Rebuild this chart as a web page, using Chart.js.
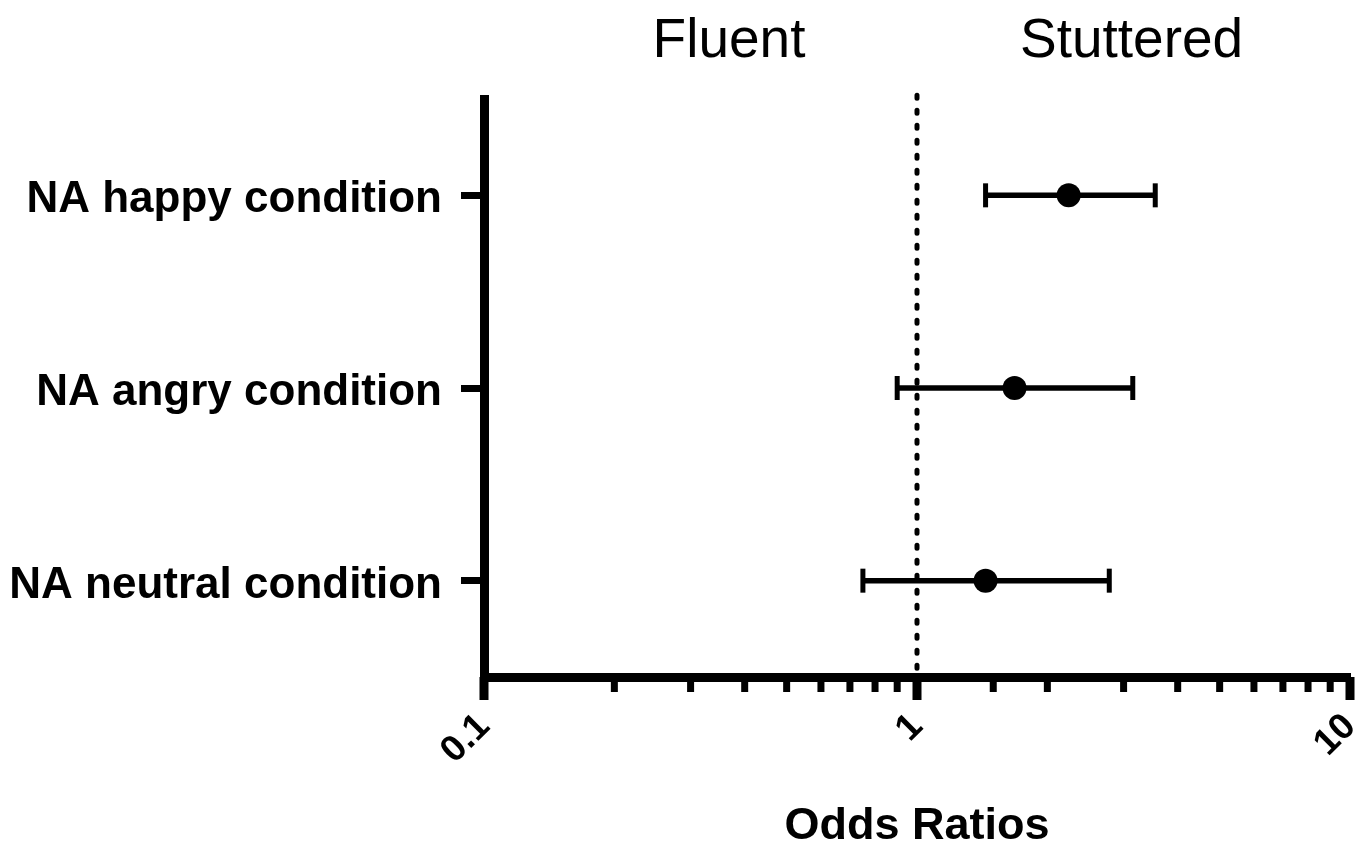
<!DOCTYPE html>
<html>
<head>
<meta charset="utf-8">
<script src="https://cdn.jsdelivr.net/npm/chart.js@4/dist/chart.umd.min.js"></script>
<style>
html,body{margin:0;padding:0;background:#fff;}
#wrap{width:1355px;height:845px;}
</style>
</head>
<body>
<div id="wrap"><canvas id="c" width="1355" height="845"></canvas></div>
<script>
// ---- data ----
const categories = ["NA neutral condition", "NA angry condition", "NA happy condition"];
const oddsRatio  = [1.44, 1.68, 2.24];
const ciLower    = [0.75, 0.90, 1.44];
const ciUpper    = [2.78, 3.15, 3.55];
const xTickLabels = [0.1, 1, 10];
const sideLabels = ["Fluent", "Stuttered"];
const sideLabelAt = [0.368, 3.13];
const referenceValue = 1;

const FONT = "'Liberation Sans', Arial, sans-serif";

const datasets = [];
// points
datasets.push({
  type: 'scatter',
  data: oddsRatio.map((v, i) => ({x: v, y: i})),
  pointRadius: 12,
  pointBackgroundColor: '#000',
  pointBorderColor: '#000',
  pointBorderWidth: 0,
  order: 0,
  clip: false
});
// error bars
categories.forEach((c, i) => {
  datasets.push({
    type: 'line',
    data: [{x: ciLower[i], y: i}, {x: ciUpper[i], y: i}],
    borderColor: '#000',
    borderWidth: 5.5,
    pointStyle: 'line',
    pointRadius: 12,
    pointRotation: 90,
    pointBorderWidth: 5,
    pointBorderColor: '#000',
    order: 1,
    clip: false
  });
});
// reference dotted line
datasets.push({
  type: 'line',
  data: [{x: referenceValue, y: 2.52}, {x: referenceValue, y: -0.5}],
  borderColor: '#000',
  borderWidth: 5,
  borderDash: [3, 12],
  borderCapStyle: 'round',
  pointRadius: 0,
  order: 2,
  clip: false
});

const decorPlugin = {
  id: 'decor',
  afterDraw(chart) {
    const ctx = chart.ctx;
    const xs = chart.scales.x;
    const area = chart.chartArea;
    ctx.save();
    ctx.fillStyle = '#000';
    xs.ticks.forEach(t => {
      const px = xs.getPixelForValue(t.value);
      const lg = Math.log10(t.value);
      const major = Math.abs(lg - Math.round(lg)) < 1e-9;
      const w = major ? 9 : 7;
      const len = major ? 23 : 15;
      let left = px - w / 2;
      if (left + w > area.right + 4.5) left = area.right + 4.5 - w;
      ctx.fillRect(left, area.bottom, w, len);
    });
    ctx.font = "55px " + FONT;
    ctx.textAlign = 'center';
    ctx.textBaseline = 'alphabetic';
    sideLabels.forEach((s, i) => {
      ctx.fillText(s, xs.getPixelForValue(sideLabelAt[i]), 57);
    });
    ctx.restore();
  }
};

new Chart(document.getElementById('c'), {
  type: 'scatter',
  data: { datasets },
  options: {
    responsive: false,
    animation: false,
    devicePixelRatio: 1,
    layout: { autoPadding: false, padding: { top: 99, right: 5, bottom: 0, left: 0 } },
    plugins: { legend: { display: false }, tooltip: { enabled: false } },
    scales: {
      x: {
        type: 'logarithmic',
        position: 'bottom',
        min: 0.1,
        max: 10,
        grid: { display: false, drawTicks: false },
        border: { display: true, color: '#000', width: 9 },
        ticks: {
          autoSkip: false,
          maxRotation: 45,
          minRotation: 45,
          padding: 28,
          color: '#000',
          font: { family: FONT, size: 37, weight: 'bold' },
          callback: (v) => xTickLabels.some(l => Math.abs(l - v) < 1e-9) ? String(v) : ''
        },
        title: {
          display: true,
          text: 'Odds Ratios',
          color: '#000',
          font: { family: FONT, size: 45, weight: 'bold', lineHeight: 0.82 },
          padding: 0
        },
        afterFit(scale) { scale.height = 168; scale.paddingLeft = 0; scale.paddingRight = 0; }
      },
      y: {
        type: 'linear',
        min: -0.5,
        max: 2.5,
        afterBuildTicks(scale) { scale.ticks = categories.map((c, i) => ({ value: i })); },
        grid: { display: true, drawOnChartArea: false, tickLength: 23, tickWidth: 7, tickColor: '#000' },
        border: { display: true, color: '#000', width: 9 },
        ticks: {
          padding: 19,
          labelOffset: 5,
          color: '#000',
          font: { family: FONT, size: 44, weight: 'bold' },
          callback: (v) => categories[Math.round(v)] || ''
        },
        afterFit(scale) { scale.width = 484; scale.paddingTop = 0; scale.paddingBottom = 0; }
      }
    }
  },
  plugins: [decorPlugin]
});
</script>
</body>
</html>
